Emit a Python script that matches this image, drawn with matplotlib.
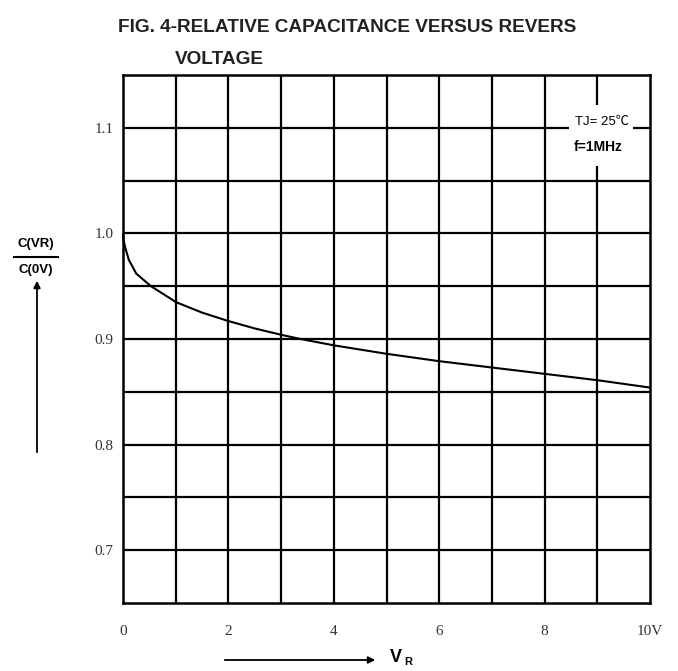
import matplotlib
matplotlib.use("Agg")
import matplotlib.pyplot as plt
from matplotlib.patches import Rectangle, FancyArrowPatch
import numpy as np

# Data
vr = [0, 0.01, 0.04, 0.11, 0.25, 0.53, 0.91, 1, 1.5, 2, 2.5, 3, 3.37, 4, 5, 6, 7, 8, 9, 10]
c_rel = [1.0, 0.994, 0.987, 0.975, 0.962, 0.95, 0.938, 0.935, 0.925, 0.917, 0.910,
         0.904, 0.9, 0.894, 0.886, 0.879, 0.873, 0.867, 0.861, 0.854]
x_ticks = [0, 2, 4, 6, 8, 10]
x_labels = ["0", "2", "4", "6", "8", "10V"]
y_ticks = [0.7, 0.8, 0.9, 1.0, 1.1]
y_labels = ["0.7", "0.8", "0.9", "1.0", "1.1"]

W, H = 678, 671
fig = plt.figure(figsize=(W / 100, H / 100), dpi=100)
ax = fig.add_axes([123 / W, 1 - 603 / H, (650 - 123) / W, (603 - 75) / H])
ax.set_xlim(0, 10)
ax.set_ylim(0.65, 1.15)

# grid
for xv in np.arange(1, 10, 1):
    ax.axvline(xv, color="black", lw=1.6, zorder=1)
for yv in np.arange(0.70, 1.149, 0.05):
    ax.axhline(yv, color="black", lw=1.6, zorder=1)
for s in ax.spines.values():
    s.set_linewidth(1.8)
    s.set_color("black")

ax.plot(vr, c_rel, color="black", lw=1.5, zorder=3, solid_capstyle="butt",
        solid_joinstyle="round", clip_on=False)

ax.set_xticks(x_ticks)
ax.set_xticklabels(x_labels, family="Liberation Serif", fontsize=11, color="#333333")
ax.set_yticks(y_ticks)
ax.set_yticklabels(y_labels, family="Liberation Serif", fontsize=11, color="#333333")
ax.tick_params(axis="both", length=0)
ax.tick_params(axis="x", pad=16)
ax.tick_params(axis="y", pad=7)

# condition box
ax.add_patch(Rectangle((8.47, 1.064), 1.21, 0.058, facecolor="white", edgecolor="none", zorder=4))
ax.text(9.09, 1.106, "TJ= 25℃", ha="center", va="center", fontsize=9.5,
        family=["Liberation Sans", "Noto Sans CJK SC"], zorder=5)
ax.text(9.02, 1.082, "f=1MHz", ha="center", va="center", fontsize=10, fontweight="bold",
        family="Liberation Sans", zorder=5)

# title
fig.text(118 / W, 1 - 27 / H, "FIG. 4-RELATIVE CAPACITANCE VERSUS REVERS", ha="left",
         va="center", fontsize=13.7, fontweight="bold", family="Liberation Sans", color="#222222")
fig.text(175 / W, 1 - 60 / H, "VOLTAGE", ha="left", va="center", fontsize=13.7,
         fontweight="bold", family="Liberation Sans", color="#222222")

# y label
fig.text(36 / W, 1 - 244 / H, "C(VR)", ha="center", va="center", fontsize=9.5,
         fontweight="bold", family="Liberation Sans")
fig.text(36 / W, 1 - 270 / H, "C(0V)", ha="center", va="center", fontsize=9.5,
         fontweight="bold", family="Liberation Sans")
fig.add_artist(plt.Line2D([14 / W, 58 / W], [1 - 257 / H, 1 - 257 / H], color="black", lw=1.5))
fig.add_artist(FancyArrowPatch((37 / W, 1 - 455 / H), (37 / W, 1 - 278 / H),
               transform=fig.transFigure, arrowstyle="-|>", mutation_scale=10,
               color="black", lw=1.3))

# x label
fig.add_artist(FancyArrowPatch((222 / W, 1 - 660 / H), (378 / W, 1 - 660 / H),
               transform=fig.transFigure, arrowstyle="-|>", mutation_scale=10,
               color="black", lw=1.3))
fig.text(390 / W, 1 - 658 / H, "V", ha="left", va="center", fontsize=13,
         fontweight="bold", family="Liberation Sans")
fig.text(404 / W, 1 - 662 / H, "R", ha="left", va="center", fontsize=8,
         fontweight="bold", family="Liberation Sans")

fig.savefig("out.png", dpi=100, facecolor="white")
